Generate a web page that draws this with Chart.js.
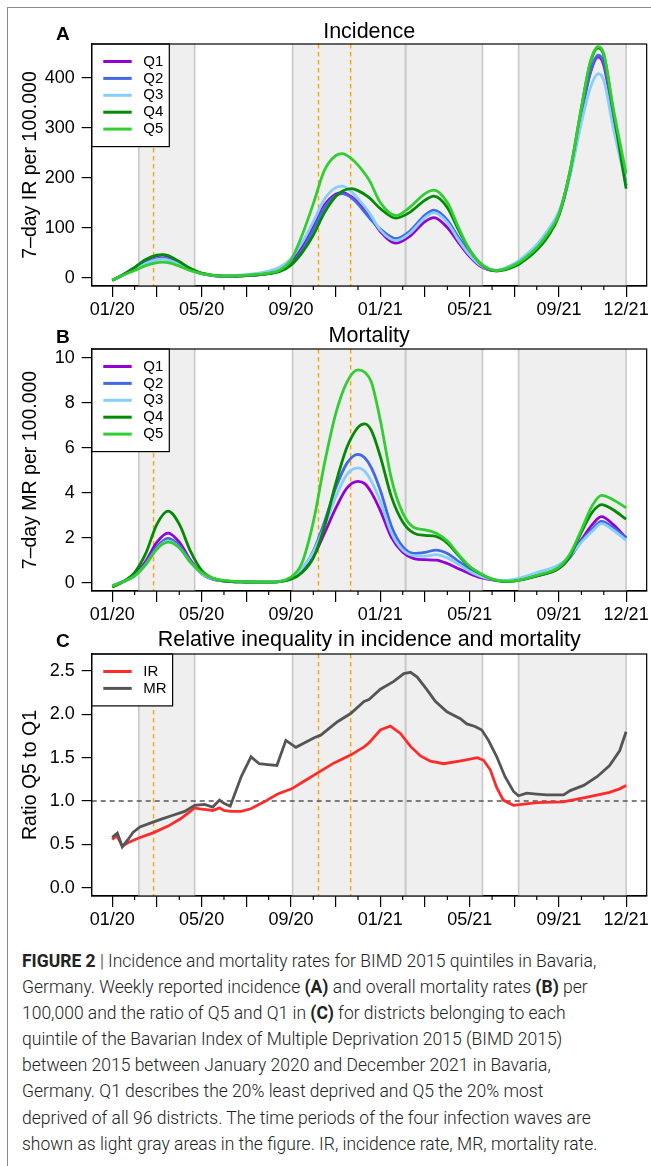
<!DOCTYPE html>
<html lang="en">
<head>
<meta charset="utf-8">
<title>Figure 2</title>
<script src="https://cdn.jsdelivr.net/npm/chart.js@4.4.1/dist/chart.umd.min.js"></script>
<style>
  html, body { margin: 0; padding: 0; background: #fff; }
  body { width: 651px; height: 1166px; position: relative; overflow: hidden; font-family: "Liberation Sans", Arial, sans-serif; }
  .frame { position: absolute; left: 7px; top: 7px; width: 720px; height: 1220px; border-left: 1.5px solid #8c8c8c; border-top: 1.5px solid #8c8c8c; }
  .panel { position: absolute; left: 0; }
  .panel canvas { display: block; }
  .tag { position: absolute; left: 56px; font: bold 19px "Liberation Sans", Arial, sans-serif; line-height: 19px; color: #000; }
  #caption { position: absolute; left: 22px; top: 948px; transform-origin: 0 0; font-family: Roboto, "Liberation Sans", sans-serif; font-weight: 300; font-size: 17.5px; line-height: 26.1px; color: #222; white-space: nowrap; }
  #caption b { font-weight: 700; }
</style>
</head>
<body>
<div class="frame"></div>

<div class="panel" style="top:0"><canvas id="chartA" width="651" height="322"></canvas></div>
<div class="panel" style="top:322px"><canvas id="chartB" width="651" height="305"></canvas></div>
<div class="panel" style="top:627px"><canvas id="chartC" width="651" height="305"></canvas></div>

<div class="tag" style="top:24px">A</div>
<div class="tag" style="top:327px">B</div>
<div class="tag" style="top:631px">C</div>

<div id="caption">
  <div class="line"><b>FIGURE 2</b> | Incidence and mortality rates for BIMD 2015 quintiles in Bavaria,</div>
  <div class="line">Germany. Weekly reported incidence <b>(A)</b> and overall mortality rates <b>(B)</b> per</div>
  <div class="line">100,000 and the ratio of Q5 and Q1 in <b>(C)</b> for districts belonging to each</div>
  <div class="line">quintile of the Bavarian Index of Multiple Deprivation 2015 (BIMD 2015)</div>
  <div class="line">between 2015 between January 2020 and December 2021 in Bavaria,</div>
  <div class="line">Germany. Q1 describes the 20% least deprived and Q5 the 20% most</div>
  <div class="line">deprived of all 96 districts. The time periods of the four infection waves are</div>
  <div class="line">shown as light gray areas in the figure. IR, incidence rate, MR, mortality rate.</div>
</div>

<script>
// x values are months since January 2020 (0 = 01/20, 23 = 12/21)
const majorTickMonths = [0, 2, 4, 6, 8, 10, 12, 14, 16, 18, 20, 23];
const minorTickMonths = [1, 3, 5, 7, 9, 11, 13, 15, 17, 19, 21, 22];
const labelMonths = [0, 4, 8, 12, 16, 20, 23];
const monthLabels = ['01/20', '05/20', '09/20', '01/21', '05/21', '09/21', '12/21'];

// infection waves (gray areas) and the orange markers
const waveStarts = [1.19, 8.07, 13.13, 18.19];
const waveEnds = [3.69, 13.13, 16.57, 23.0];
const markerMonths = [1.85, 9.23, 10.67];

const quintiles = ['Q1', 'Q2', 'Q3', 'Q4', 'Q5'];

// A - incidence
const incMonths = [0, 0.5, 1, 1.5, 2, 2.25, 2.5, 3, 3.5, 4, 5, 6, 7, 7.5, 8, 8.5, 9, 9.5, 10, 10.3, 10.7, 11, 11.5, 12, 12.7, 13.3, 14, 14.4, 15, 15.5, 16, 16.5, 17.2, 18, 18.5, 19, 19.5, 20, 20.5, 21, 21.4, 21.75, 22, 22.4, 23];
const incQ1 = [-5, 6, 20, 35, 44, 45, 42, 30, 17, 8, 3, 4, 8, 14, 30, 62, 102, 145, 167, 170, 162, 150, 125, 92, 69, 82, 112, 120, 100, 70, 42, 22, 14, 25, 40, 60, 88, 128, 210, 330, 410, 442, 425, 330, 185];
const incQ2 = [-5, 5, 17, 30, 38, 39, 37, 27, 16, 8, 3, 4, 8, 13, 27, 55, 96, 140, 164, 168, 160, 147, 120, 97, 78, 92, 125, 135, 115, 80, 48, 25, 14, 24, 40, 60, 88, 128, 210, 330, 412, 445, 430, 335, 185];
const incQ3 = [-5, 5, 16, 28, 36, 37, 35, 26, 16, 8, 4, 6, 13, 21, 38, 70, 112, 157, 180, 183, 172, 158, 130, 95, 74, 88, 120, 130, 110, 75, 45, 24, 15, 28, 45, 66, 95, 133, 205, 310, 380, 408, 395, 305, 185];
const incQ4 = [-6, 6, 20, 36, 45, 46, 44, 32, 18, 9, 3, 4, 8, 12, 25, 50, 85, 130, 162, 173, 178, 174, 160, 138, 119, 130, 155, 163, 140, 95, 55, 27, 13, 22, 36, 55, 82, 125, 215, 340, 430, 460, 445, 340, 178];
const incQ5 = [-5, 5, 14, 24, 30, 31, 30, 23, 14, 8, 3, 5, 9, 15, 35, 85, 148, 215, 244, 248, 238, 225, 195, 150, 124, 140, 168, 175, 150, 100, 55, 28, 14, 25, 40, 60, 88, 128, 215, 340, 432, 462, 448, 345, 208];
const incTicks = [0, 100, 200, 300, 400];

// B - mortality
const mortMonths = [0, 0.5, 1, 1.5, 2, 2.5, 3, 3.5, 4, 4.5, 5, 6, 7, 8, 8.5, 9, 9.5, 10, 10.5, 11, 11.3, 11.6, 12, 12.5, 13, 13.5, 14, 14.5, 15, 15.5, 16, 16.5, 17, 17.5, 18, 19, 20, 20.5, 21, 21.5, 21.9, 22.4, 23];
const mortQ1 = [-0.15, 0.05, 0.35, 0.95, 1.8, 2.2, 1.8, 1.0, 0.4, 0.15, 0.07, 0.03, 0.02, 0.2, 0.55, 1.15, 2.2, 3.3, 4.2, 4.5, 4.4, 4.0, 3.2, 2.0, 1.35, 1.07, 1.02, 1.0, 0.85, 0.62, 0.4, 0.22, 0.12, 0.08, 0.1, 0.3, 0.65, 1.15, 1.9, 2.6, 2.93, 2.6, 1.99];
const mortQ2 = [-0.15, 0.05, 0.3, 0.85, 1.6, 1.97, 1.65, 0.95, 0.4, 0.15, 0.07, 0.03, 0.02, 0.18, 0.6, 1.4, 2.7, 4.2, 5.3, 5.7, 5.55, 5.1, 4.1, 2.5, 1.6, 1.3, 1.35, 1.45, 1.3, 0.95, 0.6, 0.32, 0.15, 0.08, 0.1, 0.3, 0.68, 1.15, 1.85, 2.4, 2.72, 2.45, 1.98];
const mortQ3 = [-0.15, 0.05, 0.3, 0.8, 1.5, 1.85, 1.55, 0.9, 0.4, 0.17, 0.08, 0.04, 0.03, 0.22, 0.65, 1.35, 2.5, 3.8, 4.8, 5.1, 4.95, 4.5, 3.6, 2.2, 1.45, 1.2, 1.18, 1.25, 1.1, 0.82, 0.5, 0.28, 0.15, 0.1, 0.15, 0.45, 0.8, 1.2, 1.8, 2.3, 2.62, 2.35, 1.88];
const mortQ4 = [-0.2, 0.05, 0.45, 1.3, 2.6, 3.18, 2.6, 1.4, 0.55, 0.2, 0.08, 0.03, 0.02, 0.15, 0.45, 1.1, 2.5, 4.4, 6.0, 6.9, 7.05, 6.75, 5.6, 3.8, 2.7, 2.2, 2.1, 2.05, 1.75, 1.2, 0.7, 0.38, 0.15, 0.05, 0.07, 0.3, 0.65, 1.2, 2.25, 3.15, 3.47, 3.25, 2.82];
const mortQ5 = [-0.15, 0.05, 0.3, 0.8, 1.5, 1.8, 1.55, 0.9, 0.45, 0.2, 0.1, 0.04, 0.02, 0.25, 0.9, 2.7, 5.3, 7.5, 8.9, 9.45, 9.35, 8.9, 7.2, 4.6, 3.1, 2.45, 2.35, 2.2, 1.85, 1.25, 0.72, 0.4, 0.17, 0.07, 0.08, 0.33, 0.7, 1.3, 2.35, 3.45, 3.88, 3.7, 3.32];
const mortTicks = [0, 2, 4, 6, 8, 10];

// C - ratio Q5 / Q1
const irMonths = [0, 0.2, 0.45, 0.72, 1.16, 1.85, 2.5, 3.09, 3.39, 3.69, 3.91, 4.2, 4.5, 4.8, 5.0, 5.3, 5.77, 6.2, 6.8, 7.4, 8.03, 8.6, 9.23, 9.93, 10.67, 11.27, 11.49, 12.0, 12.45, 12.9, 13.35, 13.8, 14.24, 14.83, 15.73, 16.33, 16.62, 16.92, 17.2, 17.5, 17.96, 19.0, 20.18, 21.37, 22.26, 22.71, 23.0];
const irRatio = [0.555, 0.6, 0.48, 0.52, 0.57, 0.635, 0.71, 0.8, 0.86, 0.92, 0.91, 0.9, 0.89, 0.92, 0.89, 0.88, 0.88, 0.91, 0.99, 1.08, 1.14, 1.23, 1.33, 1.44, 1.53, 1.625, 1.67, 1.82, 1.865, 1.78, 1.63, 1.52, 1.46, 1.43, 1.47, 1.5, 1.47, 1.36, 1.16, 1.01, 0.95, 0.98, 0.99, 1.05, 1.1, 1.14, 1.18];
const mrMonths = [0, 0.23, 0.45, 0.69, 0.94, 1.24, 1.76, 2.2, 2.65, 3.24, 3.69, 4.13, 4.5, 4.8, 5.02, 5.28, 5.77, 6.21, 6.58, 6.96, 7.37, 7.77, 8.22, 8.59, 9.04, 9.33, 10.08, 10.67, 11.27, 11.49, 12.0, 12.6, 13.05, 13.35, 13.65, 14.1, 14.46, 14.98, 15.58, 15.87, 16.24, 16.54, 16.84, 17.21, 17.58, 17.96, 18.18, 18.55, 19.0, 19.45, 20.2, 20.5, 21.1, 21.7, 22.26, 22.71, 23.0];
const mrRatio = [0.58, 0.63, 0.47, 0.55, 0.64, 0.7, 0.75, 0.79, 0.83, 0.88, 0.95, 0.96, 0.93, 1.01, 0.97, 0.94, 1.28, 1.51, 1.43, 1.42, 1.41, 1.70, 1.62, 1.67, 1.73, 1.76, 1.915, 2.01, 2.15, 2.17, 2.29, 2.38, 2.47, 2.485, 2.43, 2.28, 2.15, 2.03, 1.95, 1.89, 1.86, 1.82, 1.7, 1.51, 1.28, 1.11, 1.06, 1.09, 1.08, 1.07, 1.07, 1.12, 1.18, 1.28, 1.41, 1.58, 1.80];
const ratioTicks = [0, 0.5, 1, 1.5, 2, 2.5];

const FONT = '"Liberation Sans", Arial, sans-serif';
const quintileColors = ['#9400d3', '#4169e1', '#87cefa', '#008b00', '#32cd32'];

function toPoints(months, values) {
    return months.map((m, i) => ({ x: m, y: values[i] }));
}

// gray wave areas, orange markers and optional reference line, under the curves
const wavesPlugin = {
    id: 'waves',
    beforeDatasetsDraw(chart, args, opts) {
        const { ctx, chartArea: a, scales: { x, y } } = chart;
        ctx.save();
        ctx.beginPath();
        ctx.rect(a.left, a.top, a.width, a.height);
        ctx.clip();
        ctx.fillStyle = '#efefef';
        waveStarts.forEach((s, i) => {
            const x0 = x.getPixelForValue(s);
            const x1 = x.getPixelForValue(waveEnds[i]);
            ctx.fillRect(x0, a.top, x1 - x0, a.height);
        });
        ctx.strokeStyle = '#c9c9c9';
        ctx.lineWidth = 1.6;
        waveStarts.concat(waveEnds).forEach(v => {
            const px = x.getPixelForValue(v);
            ctx.beginPath();
            ctx.moveTo(px, a.top);
            ctx.lineTo(px, a.bottom);
            ctx.stroke();
        });
        ctx.setLineDash([4.5, 3.5]);
        ctx.strokeStyle = '#ffa500';
        ctx.lineWidth = 1.4;
        markerMonths.forEach(v => {
            const px = x.getPixelForValue(v);
            ctx.beginPath();
            ctx.moveTo(px, a.top);
            ctx.lineTo(px, a.bottom);
            ctx.stroke();
        });
        if (opts.refValue !== undefined) {
            const py = y.getPixelForValue(opts.refValue);
            ctx.setLineDash([5, 4]);
            ctx.strokeStyle = '#555';
            ctx.lineWidth = 1.3;
            ctx.beginPath();
            ctx.moveTo(a.left, py);
            ctx.lineTo(a.right, py);
            ctx.stroke();
        }
        ctx.restore();
    }
};

// boxed legend in the top-left corner, then the plot frame
const legendBoxPlugin = {
    id: 'legendBox',
    afterDatasetsDraw(chart) {
        const { ctx, chartArea: a } = chart;
        const sets = chart.data.datasets;
        ctx.save();
        ctx.font = '15px ' + FONT;
        const textW = Math.max(...sets.map(d => ctx.measureText(d.label).width));
        const w = 51.6 + textW + 6;
        const h = 35 + (sets.length - 1) * 16.9;
        ctx.fillStyle = '#fff';
        ctx.fillRect(a.left, a.top, w, h);
        ctx.strokeStyle = '#000';
        ctx.lineWidth = 1.2;
        ctx.strokeRect(a.left, a.top, w, h);
        sets.forEach((d, i) => {
            const yy = a.top + 17.5 + i * 16.9;
            ctx.strokeStyle = d.borderColor;
            ctx.lineWidth = 3;
            ctx.beginPath();
            ctx.moveTo(a.left + 11.6, yy);
            ctx.lineTo(a.left + 40, yy);
            ctx.stroke();
            ctx.fillStyle = '#000';
            ctx.textBaseline = 'middle';
            ctx.fillText(d.label, a.left + 51.6, yy);
        });
        ctx.strokeStyle = '#000';
        ctx.lineWidth = 1.2;
        ctx.strokeRect(a.left, a.top, a.width, a.height);
        ctx.restore();
    }
};

// short monthly ticks between the long ones
const minorTicksPlugin = {
    id: 'minorTicks',
    afterDraw(chart) {
        const { ctx, chartArea: a, scales: { x } } = chart;
        ctx.save();
        ctx.strokeStyle = '#000';
        ctx.lineWidth = 1.2;
        minorTickMonths.forEach(m => {
            const px = x.getPixelForValue(m);
            ctx.beginPath();
            ctx.moveTo(px, a.bottom);
            ctx.lineTo(px, a.bottom + 4);
            ctx.stroke();
        });
        ctx.restore();
    }
};

function criarPainel(canvasId, cfg) {
    const canvas = document.getElementById(canvasId);
    return new Chart(canvas, {
        type: 'line',
        data: { datasets: cfg.datasets },
        options: {
            responsive: false,
            animation: false,
            devicePixelRatio: 1,
            layout: { padding: { left: 0, right: 2.7, top: 0, bottom: 0 } },
            elements: { point: { radius: 0 } },
            plugins: {
                legend: { display: false },
                tooltip: { enabled: false },
                title: {
                    display: true,
                    text: cfg.title,
                    fullSize: false,
                    color: '#000',
                    font: { family: FONT, size: 21.5, weight: 'normal', lineHeight: 1 },
                    padding: cfg.titlePadding
                },
                waves: cfg.waves || {}
            },
            scales: {
                x: {
                    type: 'linear',
                    min: -0.92,
                    max: 23.92,
                    afterBuildTicks: s => { s.ticks = majorTickMonths.map(v => ({ value: v })); },
                    afterFit: s => { s.height = 36; },
                    grid: { drawOnChartArea: false, drawTicks: true, tickLength: 11, color: '#000', lineWidth: 1.2 },
                    border: { display: true, color: '#000', width: 1.2 },
                    ticks: {
                        autoSkip: false,
                        maxRotation: 0,
                        padding: 2.2,
                        color: '#000',
                        font: { family: FONT, size: 18 },
                        callback: v => {
                            const i = labelMonths.indexOf(v);
                            return i >= 0 ? monthLabels[i] : '';
                        }
                    }
                },
                y: {
                    type: 'linear',
                    min: cfg.yMin,
                    max: cfg.yMax,
                    afterBuildTicks: s => { s.ticks = cfg.yTicks.map(v => ({ value: v })); },
                    afterFit: s => { s.width = 91.7; },
                    grid: { drawOnChartArea: false, drawTicks: true, tickLength: 10, color: '#000', lineWidth: 1.2 },
                    border: { display: true, color: '#000', width: 1.2 },
                    ticks: { padding: 7, color: '#000', font: { family: FONT, size: 18 }, callback: cfg.yFormat },
                    title: {
                        display: true,
                        text: cfg.yTitle,
                        color: '#000',
                        font: { family: FONT, size: 19.5 },
                        padding: { top: 19.3, bottom: 0 }
                    }
                }
            }
        },
        plugins: [wavesPlugin, legendBoxPlugin, minorTicksPlugin]
    });
}

function quintileSets(months, series) {
    return series.map((values, i) => ({
        label: quintiles[i],
        data: toPoints(months, values),
        borderColor: quintileColors[i],
        backgroundColor: quintileColors[i],
        borderWidth: 2.8,
        cubicInterpolationMode: 'monotone',
        order: series.length - i
    }));
}

function ajustarLegenda() {
    const caption = document.getElementById('caption');
    const first = caption.querySelector('.line');
    const range = document.createRange();
    range.selectNodeContents(first);
    const width = range.getBoundingClientRect().width;
    caption.style.transform = 'scaleX(' + (611 / width) + ')';
}

document.addEventListener('DOMContentLoaded', () => {
    criarPainel('chartA', {
        title: 'Incidence',
        titlePadding: { top: 21, bottom: 1.5 },
        yTitle: '7\u2013day IR per 100.000',
        yMin: -16.9,
        yMax: 467.5,
        yTicks: incTicks,
        yFormat: v => String(v),
        datasets: quintileSets(incMonths, [incQ1, incQ2, incQ3, incQ4, incQ5])
    });

    criarPainel('chartB', {
        title: 'Mortality',
        titlePadding: { top: 3.15, bottom: 2.35 },
        yTitle: '7\u2013day MR per 100.000',
        yMin: -0.37,
        yMax: 10.38,
        yTicks: mortTicks,
        yFormat: v => String(v),
        datasets: quintileSets(mortMonths, [mortQ1, mortQ2, mortQ3, mortQ4, mortQ5])
    });

    criarPainel('chartC', {
        title: 'Relative inequality in incidence and mortality',
        titlePadding: { top: 2.55, bottom: 2.95 },
        yTitle: 'Ratio Q5 to Q1',
        yMin: -0.097,
        yMax: 2.697,
        yTicks: ratioTicks,
        yFormat: v => v.toFixed(1),
        waves: { refValue: 1 },
        datasets: [
            { label: 'IR', data: toPoints(irMonths, irRatio), borderColor: '#ff2b2b', backgroundColor: '#ff2b2b', borderWidth: 2.8, tension: 0, order: 2 },
            { label: 'MR', data: toPoints(mrMonths, mrRatio), borderColor: '#555555', backgroundColor: '#555555', borderWidth: 2.8, tension: 0, order: 1 }
        ]
    });

    ajustarLegenda();
    if (document.fonts) document.fonts.ready.then(ajustarLegenda);
});
</script>
</body>
</html>
